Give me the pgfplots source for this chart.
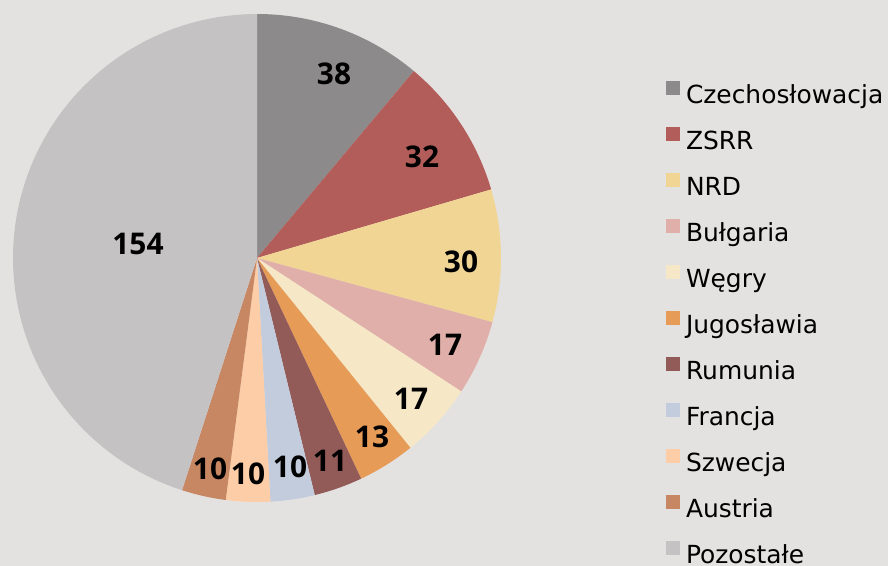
\documentclass[border=0pt]{standalone}
\usepackage{fontspec}
\setmainfont{DejaVu Sans}
\newfontfamily\numfont{Open Sans}
\usepackage{pgfplots}
\usepackage{pgfplotstable}
\pgfplotsset{compat=1.18}

\definecolor{bgcol}{HTML}{E4E2E1}
\definecolor{c0}{HTML}{8C8A8A}
\definecolor{c1}{HTML}{B35D5A}
\definecolor{c2}{HTML}{F0D595}
\definecolor{c3}{HTML}{E0AFA9}
\definecolor{c4}{HTML}{F6E8C6}
\definecolor{c5}{HTML}{E69B57}
\definecolor{c6}{HTML}{935B58}
\definecolor{c7}{HTML}{C2CCDC}
\definecolor{c8}{HTML}{FDCDA8}
\definecolor{c9}{HTML}{C88763}
\definecolor{c10}{HTML}{C4C2C2}

% value, label position (x, y in picture units)
\pgfplotstableread{
val lx ly
38  334 492
32  422 409
30  461 304
17  445 221
17  411 167
13  372 129
11  330 105
10  290 99
10  248 92
10  210 97
154 138 322
}\piedata

\pgfmathsetmacro\total{0}%
\pgfplotsforeachungrouped \i in {0,...,10}{%
  \pgfplotstablegetelem{\i}{val}\of\piedata%
  \pgfmathsetmacro\total{\total+\pgfplotsretval}%
}%
\pgfmathsetmacro\cum{0}%
\pgfplotsforeachungrouped \i in {0,...,10}{%
  \pgfplotstablegetelem{\i}{val}\of\piedata%
  \pgfmathsetmacro\sa{90-(\cum/\total)*360}%
  \pgfmathsetmacro\cum{\cum+\pgfplotsretval}%
  \pgfmathsetmacro\ea{90-(\cum/\total)*360}%
  \expandafter\xdef\csname sa\i\endcsname{\sa}%
  \expandafter\xdef\csname ea\i\endcsname{\ea}%
}%

\begin{document}
\begin{tikzpicture}
\fill[bgcol] (0,0) rectangle (888bp,566bp);
\begin{axis}[
  at={(0,0)}, anchor=south west,
  scale only axis, width=888bp, height=566bp,
  xmin=0, xmax=888, ymin=0, ymax=566,
  hide axis, clip=false,
  legend image code/.code={\fill[#1,draw=none] (0bp,3bp) rectangle (14bp,17bp); \path (20bp,0bp);},
  legend style={
    at={(axis cs:666,485)}, anchor=north west,
    draw=none, fill=none, inner sep=0pt, outer sep=0pt,
    font=\fontsize{25}{29}\selectfont,
    row sep=17bp,
    nodes={inner sep=0pt, text height=18bp, text depth=6bp},
  },
  legend cell align=left,
]
\pgfplotsinvokeforeach{0,...,10}{
  \addplot[draw=none, fill=c#1, domain={\csname ea#1\endcsname}:{\csname sa#1\endcsname}, samples=90, variable=\t]
    ({257+244*cos(\t)},{308+244*sin(\t)}) -- (axis cs:257,308) -- cycle;
}
\legend{Czechosłowacja,ZSRR,NRD,Bułgaria,Węgry,Jugosławia,Rumunia,Francja,Szwecja,Austria,Pozostałe}
\addplot[forget plot, draw=none, mark=none, nodes near coords, point meta=explicit symbolic,
  nodes near coords align={center},
  every node near coord/.append style={font=\numfont\fontsize{30}{34}\selectfont\bfseries, text=black, inner sep=0pt}]
  table[x=lx, y=ly, meta=val] {\piedata};
\end{axis}
\pgfresetboundingbox
\path[use as bounding box] (0,0) rectangle (888bp,566bp);
\end{tikzpicture}
\end{document}
